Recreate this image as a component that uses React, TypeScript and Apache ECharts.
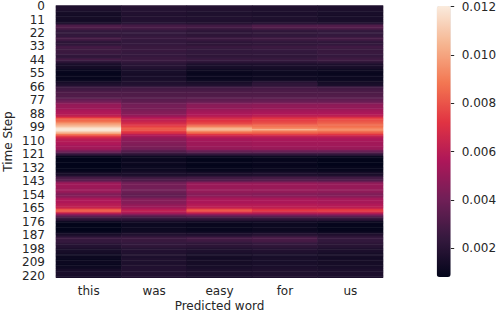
import React, { useEffect, useRef } from "react";
import * as echarts from "echarts";

// Attention weights, in units of 0.0001, one value per time step (0..221)
const words = ["this", "was", "easy", "for", "us"];

const thisVals = [
  17,17,18,17,16,15,14,14,13,14,14,
  14,13,14,15,22,30,31,30,28,24,23,
  23,22,24,23,27,28,27,22,21,22,23,
  27,28,27,26,26,25,26,24,22,23,26,
  28,24,21,17,15,14,14,13,11,10,10,
  9,9,10,10,9,10,11,13,16,17,18,
  24,26,27,28,30,31,31,32,31,32,34,
  38,40,43,48,50,51,50,52,55,56,57,
  57,60,62,72,82,84,86,92,97,99,104,
  112,118,119,117,108,100,88,77,70,64,60,
  59,58,57,56,54,54,53,50,44,40,34,
  24,18,10,8,8,7,8,8,8,7,8,
  8,8,9,10,13,14,16,22,28,30,31,
  38,48,52,53,52,52,51,52,52,50,46,
  44,45,48,54,56,57,56,58,59,60,61,
  66,80,83,78,62,48,40,34,26,22,18,
  12,9,8,8,7,8,8,8,9,11,14,
  16,20,24,25,24,24,23,21,19,19,18,
  16,15,15,14,13,12,11,11,11,10,11,
  11,11,10,11,12,12,14,15,15,16,15,
  15,15,
];

const wasVals = [
  20,20,19,19,19,18,18,18,17,18,18,
  18,18,18,19,24,28,29,29,27,24,23,
  23,23,23,24,25,25,24,23,23,24,24,
  25,25,25,25,25,24,24,24,24,25,25,
  26,25,23,21,20,20,19,18,16,15,15,
  15,14,15,15,15,15,16,17,18,18,19,
  24,27,28,29,30,31,31,31,32,32,33,
  35,35,37,40,41,42,41,42,43,44,45,
  45,48,51,56,60,61,63,66,68,70,73,
  78,82,81,78,72,68,60,55,52,49,48,
  47,46,45,44,44,43,42,40,34,32,28,
  22,18,12,11,11,10,11,11,11,10,11,
  11,11,12,13,15,15,16,20,26,28,29,
  33,39,41,42,41,41,41,40,40,39,37,
  36,36,38,43,45,46,45,46,48,50,51,
  54,59,62,60,55,45,37,32,26,22,18,
  14,12,11,11,11,11,11,12,12,14,17,
  19,22,25,26,25,25,24,23,23,22,21,
  19,19,18,18,17,17,17,16,17,17,17,
  17,16,17,17,18,18,18,18,19,18,18,
  18,18,
];

const easyVals = [
  19,19,18,18,18,17,17,17,17,17,18,
  18,17,17,18,22,27,28,27,25,22,21,
  21,21,22,22,25,26,25,22,21,22,22,
  25,25,24,23,23,23,23,22,22,23,24,
  25,23,21,18,16,15,15,14,12,11,11,
  10,10,11,11,10,11,12,14,16,17,18,
  24,27,28,29,30,31,31,31,32,33,34,
  36,37,40,45,47,48,47,49,52,53,54,
  55,57,59,64,68,70,72,75,77,80,86,
  96,104,105,98,88,82,72,64,60,56,54,
  54,53,52,52,52,51,50,48,40,37,32,
  24,18,11,9,9,8,9,9,9,8,9,
  9,9,10,11,14,15,16,21,27,28,29,
  36,46,50,52,51,51,51,51,50,49,47,
  46,47,50,54,55,56,55,56,58,59,60,
  64,78,81,74,62,48,40,34,26,22,18,
  13,11,10,10,10,10,10,10,11,13,16,
  18,22,27,28,27,26,24,22,21,21,20,
  18,17,17,16,15,14,14,14,13,14,14,
  14,14,14,14,15,15,16,16,17,16,16,
  16,16,
];

const forVals = [
  18,18,17,17,17,16,16,16,16,17,17,
  17,16,17,18,24,31,32,31,28,23,22,
  22,22,23,23,26,27,26,23,22,22,23,
  26,26,25,24,24,23,23,23,22,23,24,
  25,23,21,18,16,16,15,14,13,12,12,
  11,11,12,12,12,12,14,18,22,22,22,
  26,28,29,30,30,31,31,32,32,33,34,
  37,38,41,46,48,49,48,50,53,54,55,
  56,59,61,68,72,74,76,78,80,82,86,
  90,94,104,92,86,81,74,64,60,57,55,
  55,54,53,53,53,52,51,49,41,38,32,
  24,19,12,10,10,9,10,10,10,9,10,
  10,10,11,12,15,16,17,22,28,29,30,
  37,46,50,52,51,51,51,51,50,49,46,
  45,46,49,54,55,56,55,56,58,59,60,
  62,70,73,68,60,48,40,34,26,22,18,
  13,12,11,11,11,11,11,11,12,14,18,
  20,25,29,30,29,28,26,24,23,22,21,
  19,18,18,17,16,15,15,15,15,15,15,
  15,15,15,15,16,16,17,17,17,17,17,
  17,17,
];

const usVals = [
  17,17,16,16,16,15,15,15,14,15,15,
  15,15,15,17,24,31,32,32,29,24,23,
  23,23,24,24,27,28,27,23,22,23,24,
  27,27,26,25,25,25,25,24,24,25,26,
  27,25,22,19,16,16,15,14,12,11,11,
  10,10,11,11,11,11,12,13,15,15,16,
  24,27,28,29,30,31,31,32,32,33,34,
  37,38,41,46,48,49,48,50,53,54,55,
  56,59,61,70,76,78,80,82,84,85,86,
  88,92,95,90,84,79,72,64,60,57,55,
  55,54,53,53,53,52,51,49,41,38,32,
  24,19,11,9,9,8,8,8,8,8,9,
  9,9,10,11,14,15,16,21,27,28,29,
  36,45,49,51,50,50,50,50,49,48,45,
  44,45,48,53,54,55,54,55,57,58,59,
  62,72,74,70,60,48,40,34,26,22,18,
  12,10,9,9,9,8,9,9,10,12,16,
  18,21,23,24,23,23,22,21,20,20,19,
  17,16,16,15,14,14,14,14,13,14,14,
  14,14,14,14,15,15,16,16,16,16,16,
  16,16,
];

const columns = [thisVals, wasVals, easyVals, forVals, usVals];
const UNIT = 0.0001;
const timeSteps = thisVals.map((_, i) => String(i));
const colorbarTicks = [0.002, 0.004, 0.006, 0.008, 0.01, 0.012];
const vMin = 0.0008;
const vMax = 0.01203;
const rocket = ["#03051a", "#35193e", "#701f57", "#ad1759", "#e13342", "#f37651", "#f6b48f", "#faebdd"];

const FONT = "DejaVu Sans";
const TXT = "#262626";

export default function App() {
  const ref = useRef<HTMLDivElement>(null);
  useEffect(() => {
    if (!ref.current) return;
    const chart = echarts.init(ref.current, null, { renderer: "svg" });
    const data: [number, number, number][] = [];
    columns.forEach((col, x) => {
      col.forEach((v, y) => data.push([x, y, v * UNIT]));
    });
    chart.setOption({
      animation: false,
      grid: [
        { left: 56, top: 5.4, width: 327, height: 272.3, outerBoundsMode: "none", containLabel: false },
        { left: 436.7, top: 6, width: 14, height: 271, outerBoundsMode: "none", containLabel: false },
      ],
      xAxis: [
        {
          type: "category",
          gridIndex: 0,
          data: words,
          axisLine: { show: false },
          axisTick: { alignWithLabel: true, length: 3.5, lineStyle: { color: TXT } },
          axisLabel: { fontSize: 12, color: TXT, fontFamily: FONT, margin: 7 },
          splitLine: { show: false },
          name: "Predicted word",
          nameLocation: "middle",
          nameGap: 22,
          nameMoveOverlap: false,
          nameTextStyle: { fontSize: 12, color: TXT, fontFamily: FONT },
        },
        { type: "category", gridIndex: 1, data: ["cb"], show: false },
      ],
      yAxis: [
        {
          type: "category",
          gridIndex: 0,
          data: timeSteps,
          inverse: true,
          axisLine: { show: false },
          axisTick: { interval: 10, alignWithLabel: true, length: 3.5, lineStyle: { color: TXT } },
          axisLabel: { interval: 10, fontSize: 12, color: TXT, fontFamily: FONT, margin: 11 },
          splitLine: { show: false },
          name: "Time Step",
          nameLocation: "middle",
          nameGap: 42,
          nameMoveOverlap: false,
          nameTextStyle: { fontSize: 12, color: TXT, fontFamily: FONT },
        },
        {
          type: "value",
          gridIndex: 1,
          min: vMin,
          max: vMax,
          position: "right",
          axisLine: { show: false },
          splitLine: { show: false },
          axisTick: { show: true, length: 3.5, customValues: colorbarTicks, lineStyle: { color: TXT } },
          axisLabel: {
            customValues: colorbarTicks,
            formatter: (v: number) => v.toFixed(3),
            fontSize: 12,
            color: TXT,
            fontFamily: FONT,
            margin: 11,
          },
        },
      ],
      visualMap: {
        type: "continuous",
        min: vMin,
        max: vMax,
        seriesIndex: 0,
        calculable: false,
        orient: "vertical",
        left: 436.7,
        top: 6,
        itemWidth: 14,
        itemHeight: 271,
        padding: 0,
        showLabel: false,
        inRange: { color: rocket },
      },
      series: [
        {
          type: "heatmap",
          xAxisIndex: 0,
          yAxisIndex: 0,
          data,
          progressive: 0,
          itemStyle: { borderWidth: 0 },
          emphasis: { disabled: true },
        },
      ],
    });
    return () => chart.dispose();
  }, []);
  return (
    <div
      ref={ref}
      style={{ position: "fixed", left: 0, top: 0, width: 498, height: 314, background: "#fff" }}
    />
  );
}
